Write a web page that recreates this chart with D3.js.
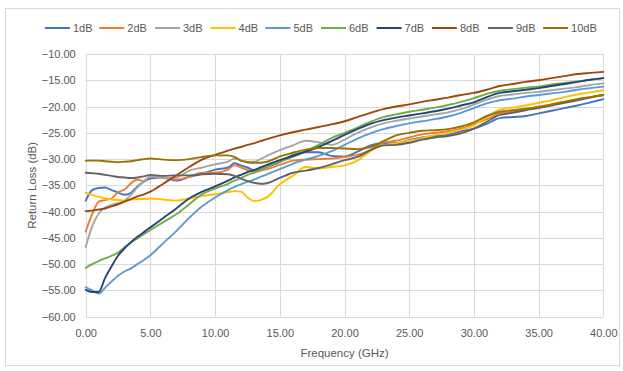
<!DOCTYPE html>
<html>
<head>
<meta charset="utf-8">
<script src="https://cdn.jsdelivr.net/npm/d3@7"></script>
<style>
  html, body { margin: 0; padding: 0; background: #ffffff; }
  svg { display: block; }
  text { font-family: "Liberation Sans", Arial, sans-serif; fill: #595959; }
</style>
</head>
<body>
<svg id="chart" width="623" height="371"></svg>
<script>
// ---- data ----
const freq = [0,0.5,1,1.5,2,2.5,3,3.5,4,4.5,5,6,7,8,9,10,11,11.5,12,12.5,13,13.5,14,15,16,17,18,19,20,21,22,23,24,25,26,27,28,29,30,31,32,33,34,35,36,37,38,39,40];

const s1dB = [-37.9,-35.9,-35.5,-35.4,-35.9,-36.4,-36.8,-36.4,-35.2,-34.3,-33.7,-33.5,-34.1,-33.4,-32.8,-32.0,-31.6,-30.8,-31.2,-31.6,-32.1,-31.9,-31.5,-30.6,-29.2,-28.7,-28.7,-29.4,-29.5,-28.6,-27.4,-27.0,-27.0,-26.4,-25.9,-25.6,-25.4,-24.7,-24.2,-23.3,-22.2,-22.0,-21.8,-21.3,-20.8,-20.3,-19.8,-19.2,-18.6];
const s2dB = [-43.8,-40.5,-38.1,-37.8,-37.5,-36.3,-35.8,-34.6,-33.9,-34.2,-33.3,-33.6,-33.9,-33.4,-32.6,-32.6,-32.0,-31.2,-31.6,-32.1,-32.4,-32.2,-31.9,-31.1,-30.3,-30.1,-30.0,-29.9,-29.6,-29.2,-28.3,-26.8,-26.5,-25.9,-25.3,-25.0,-24.7,-24.2,-23.3,-22.4,-21.3,-21.0,-20.6,-20.0,-19.6,-19.1,-18.6,-18.2,-17.8];
const s3dB = [-46.7,-42.8,-40.4,-39.2,-38.7,-38.4,-37.9,-36.8,-35.4,-34.2,-33.3,-33.6,-33.5,-32.2,-31.6,-31.0,-30.5,-29.9,-30.3,-30.5,-30.5,-30.0,-29.4,-28.3,-27.4,-26.5,-26.8,-27.3,-26.3,-25.0,-24.0,-23.2,-22.7,-22.3,-21.9,-21.5,-21.1,-20.5,-19.6,-18.7,-18.0,-17.7,-17.4,-17.2,-16.9,-16.6,-16.3,-15.9,-15.6];
const s4dB = [-36.4,-36.8,-37.2,-37.5,-37.7,-37.8,-37.9,-37.7,-37.6,-37.6,-37.5,-37.7,-37.9,-37.5,-37.0,-36.7,-36.3,-36.1,-36.2,-37.3,-38.0,-37.8,-37.3,-34.8,-33.2,-31.5,-31.8,-31.5,-31.2,-30.3,-28.5,-27.4,-27.0,-26.5,-26.0,-25.4,-25.0,-24.4,-23.6,-22.0,-20.6,-20.2,-19.8,-19.3,-18.8,-18.2,-17.7,-17.3,-16.9];
const s5dB = [-54.4,-55.0,-55.6,-54.5,-53.3,-52.2,-51.4,-50.8,-50.0,-49.2,-48.3,-46.0,-43.7,-41.2,-39.0,-37.3,-35.9,-35.3,-34.8,-34.3,-33.9,-33.4,-32.9,-31.9,-30.9,-30.1,-29.4,-28.5,-27.3,-26.1,-25.1,-24.3,-23.7,-23.2,-22.8,-22.4,-21.9,-21.2,-20.3,-19.4,-18.8,-18.5,-18.1,-17.8,-17.5,-17.2,-16.8,-16.5,-16.2];
const s6dB = [-50.7,-50.0,-49.4,-48.9,-48.4,-47.8,-46.8,-45.9,-45.1,-44.3,-43.5,-42.0,-40.5,-38.6,-36.7,-35.6,-34.7,-34.1,-33.6,-33.0,-32.6,-32.1,-31.5,-30.5,-29.6,-28.5,-27.3,-26.0,-25.0,-24.0,-22.9,-22.0,-21.5,-21.0,-20.6,-20.2,-19.7,-19.1,-18.4,-17.6,-17.0,-16.7,-16.4,-16.2,-15.8,-15.5,-15.2,-14.9,-14.6];
const s7dB = [-54.9,-55.3,-55.3,-52.6,-50.4,-48.4,-47.0,-45.8,-44.8,-43.9,-43.0,-41.2,-39.4,-37.5,-36.2,-35.2,-34.1,-33.5,-33.0,-32.5,-32.1,-31.6,-31.1,-30.2,-29.4,-28.6,-27.7,-26.6,-25.4,-24.3,-23.3,-22.6,-22.1,-21.7,-21.3,-20.9,-20.4,-19.8,-19.2,-18.2,-17.4,-17.1,-16.8,-16.5,-16.1,-15.7,-15.3,-14.9,-14.6];
const s8dB = [-39.9,-39.8,-39.6,-39.4,-39.0,-38.6,-38.1,-37.6,-37.1,-36.7,-36.2,-34.7,-33.1,-31.5,-30.1,-29.2,-28.4,-28.0,-27.7,-27.3,-27.0,-26.6,-26.2,-25.5,-24.9,-24.4,-23.9,-23.4,-22.8,-22.0,-21.2,-20.5,-20.0,-19.6,-19.1,-18.7,-18.3,-17.8,-17.4,-16.8,-16.1,-15.7,-15.3,-15.0,-14.6,-14.2,-13.8,-13.6,-13.4];
const s9dB = [-32.6,-32.7,-32.8,-33.0,-33.2,-33.4,-33.5,-33.6,-33.5,-33.3,-33.0,-33.2,-33.1,-33.1,-32.9,-32.8,-32.9,-33.2,-33.7,-34.2,-34.5,-34.7,-34.6,-33.6,-32.6,-32.2,-31.7,-31.0,-30.2,-29.6,-28.3,-27.4,-27.3,-26.9,-26.3,-25.9,-25.6,-25.1,-24.2,-22.9,-21.6,-21.2,-20.7,-20.3,-19.8,-19.3,-18.8,-18.3,-17.8];
const s10dB = [-30.3,-30.3,-30.3,-30.4,-30.5,-30.6,-30.5,-30.4,-30.2,-30.0,-29.9,-30.1,-30.2,-30.0,-29.6,-29.3,-29.3,-29.6,-30.3,-30.6,-30.7,-30.7,-30.5,-29.5,-28.8,-28.2,-27.9,-27.9,-28.0,-28.1,-27.7,-26.6,-25.5,-25.0,-24.6,-24.5,-24.3,-23.8,-23.0,-21.8,-21.0,-20.7,-20.4,-20.1,-19.6,-19.1,-18.6,-18.2,-17.8];

const seriesNames = ["1dB","2dB","3dB","4dB","5dB","6dB","7dB","8dB","9dB","10dB"];
const seriesValues = [s1dB,s2dB,s3dB,s4dB,s5dB,s6dB,s7dB,s8dB,s9dB,s10dB];
const seriesColors = ["#4472C4","#ED7D31","#A5A5A5","#FFC000","#5B9BD5","#70AD47","#264478","#9E480E","#636363","#997300"];

const xTicks = [0,5,10,15,20,25,30,35,40];
const yTicks = [-10,-15,-20,-25,-30,-35,-40,-45,-50,-55,-60];

// ---- layout ----
const svg = d3.select("#chart");
const plot = {left: 85.7, right: 603.3, top: 54, bottom: 316.7};

svg.append("rect")
  .attr("x", 5.5).attr("y", 8.5).attr("width", 614).attr("height", 357)
  .attr("fill", "#fff").attr("stroke", "#D9D9D9").attr("stroke-width", 1);

const x = d3.scaleLinear().domain([0, 40]).range([plot.left, plot.right]);
const y = d3.scaleLinear().domain([-60, -10]).range([plot.bottom, plot.top]);

// gridlines
const grid = svg.append("g");
grid.selectAll("line.h").data(yTicks).enter().append("line")
  .attr("x1", plot.left).attr("x2", plot.right)
  .attr("y1", d => Math.round(y(d)) + 0.5).attr("y2", d => Math.round(y(d)) + 0.5)
  .attr("stroke", "#D9D9D9").attr("stroke-width", 1);
grid.selectAll("line.v").data(xTicks).enter().append("line")
  .attr("y1", plot.top).attr("y2", plot.bottom)
  .attr("x1", d => Math.round(x(d)) + 0.5).attr("x2", d => Math.round(x(d)) + 0.5)
  .attr("stroke", "#D9D9D9").attr("stroke-width", 1);

// axes (labels only)
const fmt = d3.format(".2f");
const yAxis = svg.append("g").attr("transform", `translate(${plot.left},0)`)
  .call(d3.axisLeft(y).tickValues(yTicks).tickFormat(fmt).tickSize(0).tickPadding(10));
yAxis.select(".domain").remove();
yAxis.selectAll("text").attr("font-size", "11px").attr("fill", "#595959")
  .style("font-family", "'Liberation Sans', Arial, sans-serif");

const xAxis = svg.append("g").attr("transform", `translate(0,${plot.bottom})`)
  .call(d3.axisBottom(x).tickValues(xTicks).tickFormat(fmt).tickSize(0).tickPadding(13));
xAxis.select(".domain").remove();
xAxis.selectAll("text").attr("font-size", "11px").attr("fill", "#595959")
  .style("font-family", "'Liberation Sans', Arial, sans-serif");

// axis titles
svg.append("text").attr("x", (plot.left + plot.right) / 2).attr("y", 357)
  .attr("text-anchor", "middle").attr("font-size", "11.5px").text("Frequency (GHz)");
svg.append("text").attr("transform", `translate(36,${(plot.top + plot.bottom) / 2}) rotate(-90)`)
  .attr("text-anchor", "middle").attr("font-size", "11.5px").text("Return Loss (dB)");

// series
const line = d3.line().x((d, i) => x(freq[i])).y(d => y(d)).curve(d3.curveMonotoneX);
const lines = svg.append("g");
seriesValues.forEach((vals, k) => {
  lines.append("path").datum(vals)
    .attr("d", line)
    .attr("fill", "none")
    .attr("stroke", seriesColors[k])
    .attr("stroke-width", 1.9)
    .attr("stroke-linejoin", "round")
    .attr("stroke-linecap", "round");
});

// legend
const legendStarts = [44.9, 99.3, 155, 210.6, 265.4, 321, 376.6, 431.9, 487.9, 543.1];
const legendY = 28;
const legend = svg.append("g");
seriesNames.forEach((name, k) => {
  const lx = legendStarts[k];
  legend.append("line").attr("x1", lx).attr("x2", lx + 25)
    .attr("y1", legendY).attr("y2", legendY)
    .attr("stroke", seriesColors[k]).attr("stroke-width", 2);
  legend.append("text").attr("x", lx + 28).attr("y", legendY).attr("dy", "0.35em")
    .attr("font-size", "11px").text(name);
});
</script>
</body>
</html>
